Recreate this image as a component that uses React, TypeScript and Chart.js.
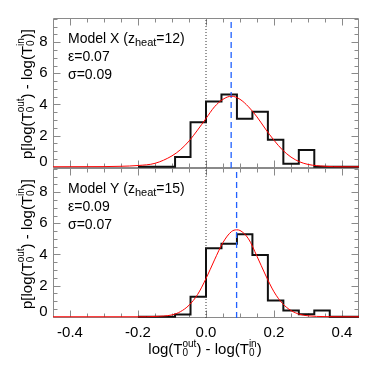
import { useEffect, useRef } from "react";
import { Chart, registerables } from "chart.js";
Chart.register(...registerables);

// ---- data ----
const binEdges = [-0.2, -0.091, -0.0455, 0, 0.0455, 0.091, 0.1365, 0.182, 0.2275, 0.273, 0.3185, 0.364, 0.45];
const histTop = [0, 0.62, 2.86, 4.19, 4.64, 3.08, 3.53, 1.73, 0.19, 1.07, 0, 0];
const histBottom = [0, 0.14, 1.28, 4.4, 4.68, 5.3, 3.97, 1.05, 0.4, 0.16, 0.4, 0];

const fitTopX = [-0.45, -0.3, -0.25, -0.2, -0.15, -0.1, -0.075, -0.05, -0.025, 0, 0.025, 0.05, 0.075, 0.1, 0.125, 0.15, 0.175, 0.2, 0.225, 0.25, 0.275, 0.3, 0.35, 0.4, 0.45];
const fitTopY = [0, 0.01, 0.03, 0.08, 0.22, 0.7, 1.1, 1.65, 2.35, 3.1, 3.85, 4.33, 4.53, 4.33, 3.85, 3.2, 2.42, 1.7, 1.08, 0.62, 0.32, 0.15, 0.03, 0, 0];

const fitBottomX = [-0.45, -0.3, -0.2, -0.15, -0.1, -0.075, -0.05, -0.025, 0, 0.025, 0.05, 0.075, 0.09, 0.1, 0.125, 0.15, 0.175, 0.2, 0.225, 0.25, 0.275, 0.3, 0.35, 0.4, 0.45];
const fitBottomY = [0, 0, 0, 0.02, 0.12, 0.33, 0.74, 1.42, 2.45, 3.65, 4.77, 5.47, 5.58, 5.54, 5.0, 3.88, 2.68, 1.6, 0.85, 0.4, 0.16, 0.06, 0.01, 0, 0];

const meanTop = 0.074;
const meanBottom = 0.09;
const refX = 0;

const xTickLabels = [-0.4, -0.2, 0, 0.2, 0.4];
const yTickLabels = [0, 2, 4, 6, 8];
const panelModel = ["Model X", "Model Y"];
const panelZheat = ["12", "15"];
const panelEps = ["0.07", "0.09"];
const panelSigma = ["0.09", "0.07"];

const X_MIN = -0.45;
const X_MAX = 0.45;
const Y_MIN = -0.08;
const Y_MAX = 9.55;

const FONT = '"Liberation Sans", Arial, Helvetica, sans-serif';

type Seg = { t: string; size: number; dy?: number; noAdvance?: boolean };

function segsWidth(ctx: CanvasRenderingContext2D, segs: Seg[]) {
  let w = 0;
  for (const s of segs) {
    ctx.font = `${s.size}px ${FONT}`;
    if (!s.noAdvance) w += ctx.measureText(s.t).width;
  }
  return w;
}

function drawSegs(ctx: CanvasRenderingContext2D, segs: Seg[], x: number, y: number) {
  let cx = x;
  ctx.textAlign = "left";
  ctx.textBaseline = "alphabetic";
  for (const s of segs) {
    ctx.font = `${s.size}px ${FONT}`;
    ctx.fillText(s.t, cx, y + (s.dy || 0));
    if (!s.noAdvance) cx += ctx.measureText(s.t).width;
  }
}

const SUP = 10;
const tOut: Seg[] = [
  { t: "0", size: SUP, dy: 2, noAdvance: true },
  { t: "out", size: SUP, dy: -7.5 },
];
const tIn: Seg[] = [
  { t: "0", size: SUP, dy: 2, noAdvance: true },
  { t: "in", size: SUP, dy: -7.5 },
];
const xTitle: Seg[] = [
  { t: "log(T", size: 15 },
  ...tOut,
  { t: ") - log(T", size: 15 },
  ...tIn,
  { t: ")", size: 15 },
];
const yTitle: Seg[] = [
  { t: "p[log(T", size: 15 },
  ...tOut,
  { t: ") - log(T", size: 15 },
  ...tIn,
  { t: ")]", size: 15 },
];

const stepPoints = (h: number[]) => {
  const pts: { x: number; y: number }[] = [];
  for (let i = 0; i < h.length; i++) {
    pts.push({ x: binEdges[i], y: h[i] });
    pts.push({ x: binEdges[i + 1], y: h[i] });
  }
  return pts;
};
const curvePoints = (xs: number[], ys: number[]) => xs.map((x, i) => ({ x, y: ys[i] }));
const vline = (v: number) => [
  { x: v, y: Y_MIN },
  { x: v, y: Y_MAX },
];

const FRAME = "#8a8a8a";

const decor = {
  id: "decor",
  beforeDatasetsDraw(chart: any) {
    const ctx: CanvasRenderingContext2D = chart.ctx;
    const area = chart.chartArea;
    const xs = chart.scales.x;
    ctx.save();
    ctx.strokeStyle = FRAME;
    ctx.lineWidth = 1;
    for (const id of ["yT", "yB"]) {
      const ys = chart.scales[id];
      const L = Math.round(area.left) + 0.5;
      const R = Math.round(area.right) - 0.5;
      const T = Math.round(ys.top) + 0.5;
      const B = Math.round(ys.bottom) - 0.5;
      ctx.beginPath();
      ctx.rect(L, T, R - L, B - T);
      ctx.stroke();
      // x ticks (top & bottom of each panel)
      ctx.beginPath();
      for (let k = -9; k <= 9; k++) {
        const v = k * 0.05;
        if (v <= X_MIN + 1e-9 || v >= X_MAX - 1e-9) continue;
        const major = Math.abs(v / 0.2 - Math.round(v / 0.2)) < 1e-6;
        const len = major ? 7 : 4;
        const px = Math.round(xs.getPixelForValue(v)) + 0.5;
        ctx.moveTo(px, T);
        ctx.lineTo(px, T + len);
        ctx.moveTo(px, B);
        ctx.lineTo(px, B - len);
      }
      // y ticks (left & right)
      for (let k = 0; k <= 19; k++) {
        const v = k * 0.5;
        if (v > Y_MAX) break;
        const major = k % 4 === 0;
        const len = major ? 7 : 4;
        const py = Math.round(ys.getPixelForValue(v)) + 0.5;
        ctx.moveTo(L, py);
        ctx.lineTo(L + len, py);
        ctx.moveTo(R, py);
        ctx.lineTo(R - len, py);
      }
      ctx.stroke();
    }
    ctx.restore();
  },
  afterDatasetsDraw(chart: any) {
    const ctx: CanvasRenderingContext2D = chart.ctx;
    const area = chart.chartArea;
    const xs = chart.scales.x;
    ctx.save();
    ctx.fillStyle = "#000";
    // x tick labels
    ctx.font = `15px ${FONT}`;
    ctx.textAlign = "center";
    ctx.textBaseline = "alphabetic";
    for (const v of xTickLabels) {
      ctx.fillText(v.toFixed(1), xs.getPixelForValue(v), 336.5);
    }
    // x title
    const xw = segsWidth(ctx, xTitle);
    drawSegs(ctx, xTitle, (area.left + area.right) / 2 - xw / 2 - 1, 354);

    ["yT", "yB"].forEach((id, p) => {
      const ys = chart.scales[id];
      // y tick labels
      ctx.font = `15px ${FONT}`;
      ctx.textAlign = "right";
      ctx.textBaseline = "middle";
      for (const v of yTickLabels) {
        const py = ys.getPixelForValue(v) + (v === 0 ? -5 : 0);
        ctx.fillText(String(v), 47.5, py);
      }
      // y title rotated
      const yw = segsWidth(ctx, yTitle);
      ctx.save();
      ctx.translate(31.5, (ys.top + ys.bottom) / 2 + 1);
      ctx.rotate(-Math.PI / 2);
      drawSegs(ctx, yTitle, -yw / 2, 0);
      ctx.restore();
      // panel annotation
      const tx = area.left + 15;
      drawSegs(
        ctx,
        [
          { t: `${panelModel[p]} (z`, size: 14 },
          { t: "heat", size: 11, dy: 3 },
          { t: `=${panelZheat[p]})`, size: 14 },
        ],
        tx,
        ys.top + 25
      );
      drawSegs(ctx, [{ t: `ε=${panelEps[p]}`, size: 14 }], tx, ys.top + 43.3);
      drawSegs(ctx, [{ t: `σ=${panelSigma[p]}`, size: 14 }], tx, ys.top + 61);
    });
    ctx.restore();
  },
};

export default function App() {
  const ref = useRef<HTMLCanvasElement | null>(null);
  useEffect(() => {
    if (!ref.current) return;
    const base = { pointRadius: 0, fill: false, tension: 0, xAxisID: "x" };
    const chart = new Chart(ref.current, {
      type: "line",
      data: {
        datasets: [
          { ...base, data: curvePoints(fitTopX, fitTopY), yAxisID: "yT", borderColor: "#ff0000", borderWidth: 1, cubicInterpolationMode: "monotone" },
          { ...base, data: curvePoints(fitBottomX, fitBottomY), yAxisID: "yB", borderColor: "#ff0000", borderWidth: 1, cubicInterpolationMode: "monotone" },
          { ...base, data: vline(meanTop), yAxisID: "yT", borderColor: "#2060ff", borderWidth: 1.3, borderDash: [6, 4] },
          { ...base, data: vline(meanBottom), yAxisID: "yB", borderColor: "#2060ff", borderWidth: 1.3, borderDash: [6, 4] },
          { ...base, data: stepPoints(histTop), yAxisID: "yT", borderColor: "#111111", borderWidth: 2, borderJoinStyle: "miter" },
          { ...base, data: stepPoints(histBottom), yAxisID: "yB", borderColor: "#111111", borderWidth: 2, borderJoinStyle: "miter" },
          { ...base, data: vline(refX), yAxisID: "yT", borderColor: "#333333", borderWidth: 1, borderDash: [1, 2] },
          { ...base, data: vline(refX), yAxisID: "yB", borderColor: "#333333", borderWidth: 1, borderDash: [1, 2] },
        ] as any,
      },
      options: {
        responsive: false,
        animation: false,
        devicePixelRatio: 1,
        events: [],
        layout: { padding: { top: 18, right: 15, left: 0, bottom: 0 } },
        plugins: { legend: { display: false }, tooltip: { enabled: false }, title: { display: false } },
        scales: {
          x: {
            type: "linear",
            min: X_MIN,
            max: X_MAX,
            ticks: { display: false },
            grid: { display: false },
            border: { display: false },
            afterFit: (s: any) => {
              s.height = 56;
            },
          },
          yB: {
            type: "linear",
            position: "left",
            stack: "panels",
            stackWeight: 1,
            min: Y_MIN,
            max: Y_MAX,
            ticks: { display: false },
            grid: { display: false },
            border: { display: false },
            afterFit: (s: any) => {
              s.width = 53;
            },
          },
          yT: {
            type: "linear",
            position: "left",
            stack: "panels",
            stackWeight: 1,
            min: Y_MIN,
            max: Y_MAX,
            ticks: { display: false },
            grid: { display: false },
            border: { display: false },
            afterFit: (s: any) => {
              s.width = 53;
            },
          },
        } as any,
      },
      plugins: [decor],
    });
    return () => chart.destroy();
  }, []);
  return (
    <div style={{ position: "absolute", left: 0, top: 0, width: 374, height: 374, background: "#fff" }}>
      <canvas ref={ref} width={374} height={374} style={{ display: "block", width: 374, height: 374 }} />
    </div>
  );
}
